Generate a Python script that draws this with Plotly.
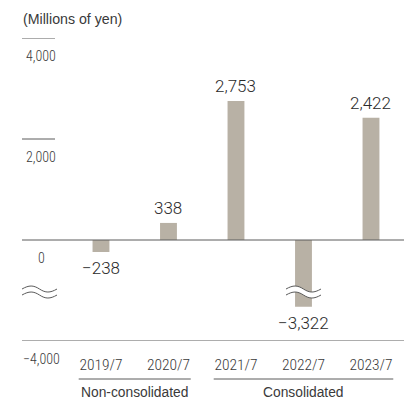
import plotly.graph_objects as go

# Net income by fiscal year (millions of yen)
periods = ["2019/7", "2020/7", "2021/7", "2022/7", "2023/7"]
net_income = [-238, 338, 2753, -3322, 2422]

# Reporting basis groups: (label, first period index, last period index)
group_labels = ["Non-consolidated", "Consolidated"]
group_first = [0, 2]
group_last = [1, 4]

# Y-axis ticks (values) and their labels
y_tick_values = [4000, 2000, 0, -4000]
y_tick_labels = ["4,000", "2,000", "0", "\u22124,000"]

unit_label = "(Millions of yen)"

# Broken axis: values below the break are shifted up by LOWER_SHIFT
BREAK_VALUE = -3030          # real value where the lower segment starts
BREAK_DISPLAY = -1030        # where the break sits on the drawn axis
LOWER_SHIFT = BREAK_DISPLAY - BREAK_VALUE
LOWER_LIMIT = -4000


def to_display(v):
    """Map a real value onto the broken axis."""
    return v + LOWER_SHIFT if v <= BREAK_VALUE else v


def fmt(v):
    s = f"{abs(v):,}"
    return ("\u2212" + s) if v < 0 else s


BAR_COLOR = "#b8b1a5"
LINE_COLOR = "#5a5a5a"
TEXT_COLOR = "#3a3a3a"
NUM_FONT = "Roboto, sans-serif"
NARROW_FONT = "'Roboto Condensed', 'DejaVu Sans Condensed', sans-serif"
SANS_FONT = "'Liberation Sans', Arial, sans-serif"

PLOT_W = 404 - 22
PLOT_H = 399 - 38 - 58

x_pos = list(range(len(periods)))
display_vals = [to_display(v) for v in net_income]

fig = go.Figure()
fig.add_trace(go.Bar(
    x=x_pos,
    y=display_vals,
    width=0.25,
    marker=dict(color=BAR_COLOR, line=dict(width=0)),
    hoverinfo="skip",
))

shapes = []
annotations = []

# Horizontal reference lines: short for positive ticks, full width for 0 and the floor
for v in y_tick_values:
    d = to_display(v)
    full = v <= 0
    shapes.append(dict(
        type="line", xref="paper", yref="y",
        x0=0, x1=1 if full else 33 / PLOT_W, y0=d, y1=d,
        line=dict(color=LINE_COLOR, width=1),
        layer="above",
    ))
for v, lab in zip(y_tick_values, y_tick_labels):
    annotations.append(dict(
        x=19 / PLOT_W, xref="paper", y=to_display(v), yref="y",
        text=lab, showarrow=False, xanchor="center", yanchor="middle",
        yshift=-18,
        font=dict(family=NARROW_FONT, size=14, weight=300, color=TEXT_COLOR),
    ))

# Value labels
for i, v in enumerate(net_income):
    d = to_display(v)
    pos = v >= 0
    annotations.append(dict(
        x=i, y=d, xref="x", yref="y", text=fmt(v), showarrow=False,
        xanchor="center", yanchor="bottom" if pos else "top",
        yshift=3 if pos else -4,
        font=dict(family=NUM_FONT, size=17, weight=300, color="#2a2a2a"),
    ))


def wave(dy, w=17.5, a=4.0):
    return (f"M {-w},{dy} C {-w*0.6},{dy+a} {-w*0.35},{dy+a} 0,{dy} "
            f"C {w*0.35},{dy-a} {w*0.6},{dy-a} {w},{dy}")


def gap_fill(gap, w=17.5, a=4.0):
    top = gap / 2
    bot = -gap / 2
    return (f"M {-w},{top} C {-w*0.6},{top+a} {-w*0.35},{top+a} 0,{top} "
            f"C {w*0.35},{top-a} {w*0.6},{top-a} {w},{top} "
            f"L {w},{bot} C {w*0.6},{bot-a} {w*0.35},{bot-a} 0,{bot} "
            f"C {-w*0.35},{bot+a} {-w*0.6},{bot+a} {-w},{bot} Z")


def add_break(xref, xval):
    base = dict(xref=xref, yref="y", xsizemode="pixel", ysizemode="pixel",
                xanchor=xval, yanchor=BREAK_DISPLAY, layer="above")
    shapes.append(dict(type="path", path=gap_fill(6), fillcolor="white",
                       line=dict(width=0), **base))
    for dy in (3, -3):
        shapes.append(dict(type="path", path=wave(dy),
                           line=dict(color=LINE_COLOR, width=1), **base))


# Axis break marks on the y axis and on bars crossing the break
add_break("paper", 17.5 / PLOT_W)
for i, v in enumerate(net_income):
    if v <= BREAK_VALUE:
        add_break("x", i)

# Reporting basis groups under the period labels
for lab, a, b in zip(group_labels, group_first, group_last):
    shapes.append(dict(
        type="line", xref="x", yref="paper",
        x0=a - 0.33, x1=b + 0.33, y0=-38 / PLOT_H, y1=-38 / PLOT_H,
        line=dict(color=LINE_COLOR, width=1),
    ))
    annotations.append(dict(
        x=(a + b) / 2, xref="x", y=-51 / PLOT_H, yref="paper", text=lab,
        showarrow=False, xanchor="center", yanchor="middle",
        font=dict(family=SANS_FONT, size=13.8, color=TEXT_COLOR),
    ))

fig.update_layout(
    width=404, height=399,
    margin=dict(l=22, r=0, t=38, b=58),
    paper_bgcolor="white", plot_bgcolor="white",
    showlegend=False,
    shapes=shapes, annotations=annotations,
    # Unit caption, left-aligned with the axis lines
    title=dict(
        text=unit_label, xref="paper", x=0, xanchor="left",
        yref="container", y=1 - 19 / 399, yanchor="middle",
        pad=dict(l=1, t=0, b=0, r=0),
        font=dict(family=SANS_FONT, size=14.2, color=TEXT_COLOR),
    ),
    xaxis=dict(
        range=[-1.17, 4.489], tickmode="array", tickvals=x_pos, ticktext=periods,
        showgrid=False, zeroline=False, showline=False,
        ticks="outside", ticklen=9, tickcolor="rgba(0,0,0,0)",
        tickfont=dict(family=NARROW_FONT, size=15.5, weight=300, color=TEXT_COLOR),
        fixedrange=True,
    ),
    yaxis=dict(
        range=[to_display(LOWER_LIMIT), 4000],
        showgrid=False, zeroline=False, showline=False, showticklabels=False,
        fixedrange=True,
    ),
)

fig.write_html("out.html")
